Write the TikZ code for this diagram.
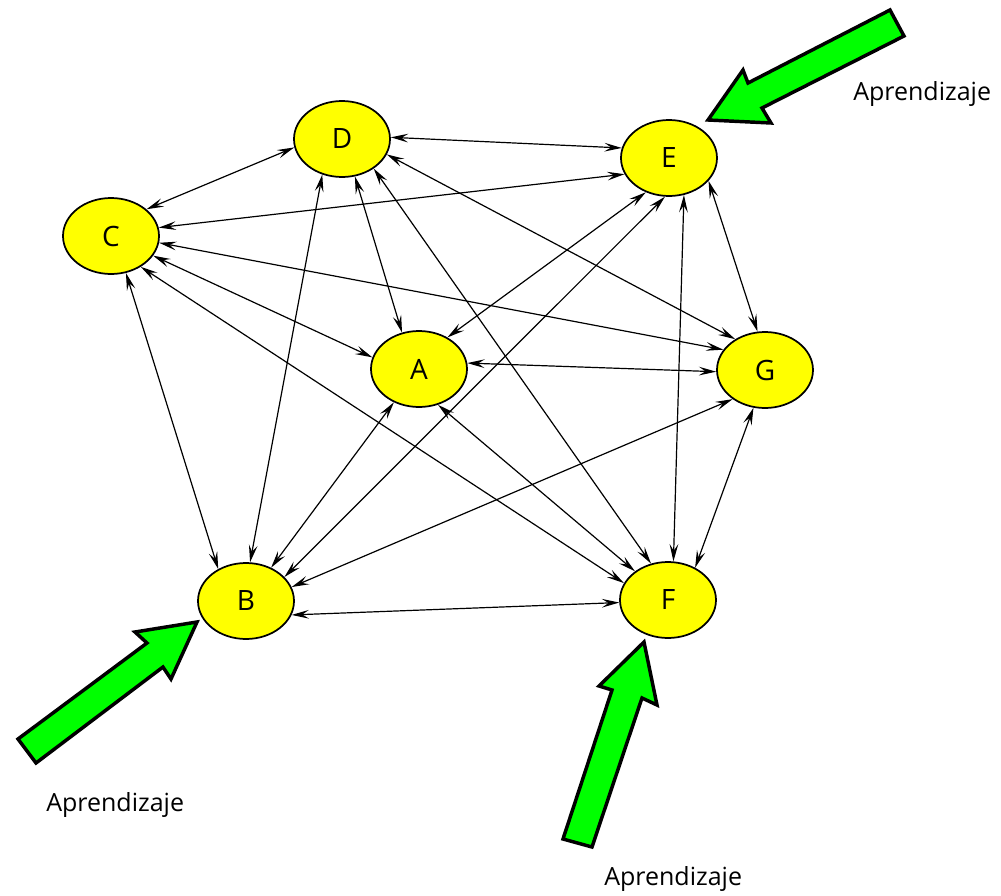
\documentclass[tikz,border=0pt]{standalone}
\usepackage{fontspec}
\setmainfont{Open Sans}
\usetikzlibrary{shapes.geometric,arrows.meta}
\definecolor{amarillo}{RGB}{255,255,0}
\definecolor{verde}{RGB}{0,255,0}

\begin{document}
\begin{tikzpicture}[x=0.75pt,y=0.75pt,yscale=-1,xscale=1,
    estado/.style={ellipse,draw,line width=1.3pt,fill=amarillo,minimum width=72pt,minimum height=57pt,inner sep=0pt,font=\fontsize{21}{25}\selectfont},
    enlace/.style={line width=0.9pt,{Stealth[length=13pt,width=6.5pt,inset=5pt]}-{Stealth[length=13pt,width=6.5pt,inset=5pt]}},
    flecha/.style={draw=black,line width=2.6pt,fill=verde,line join=miter},
    etiqueta/.style={fill=white,inner sep=0.75pt,anchor=base west,font=\fontsize{18.75}{22}\selectfont}]
        \useasboundingbox (0,0) rectangle (1001,896);

        % Estados
        \node [estado] (D) at (342,139) {D};
        \node [estado] (E) at (669,158) {E};
        \node [estado] (C) at (111,236) {C};
        \node [estado] (A) at (419,369) {A};
        \node [estado] (G) at (765,370) {G};
        \node [estado] (B) at (246,601) {B};
        \node [estado] (F) at (668,600) {F};

        % Enlaces (nodo.angulo)
        \foreach \a/\p/\b/\q in {D/2/E/168, D/190/C/37, D/-119/B/84, D/-71/A/115, D/-43/F/115, D/-19/G/134,
                                 E/200/C/10, E/-124/A/48, E/-96/B/32, E/-68/F/82, E/-30/G/101,
                                 C/-25/A/166, C/-8/G/154, C/-68/B/131, C/-46/F/159,
                                 A/7/G/182, A/-127/B/53, A/-62/F/139, G/-138/B/17, G/-107/F/50, B/-17/F/183}
            \draw [enlace] (\a.\p) -- (\b.\q);

        %Shape: Right Arrow [id:flechaE]
        \draw [flecha] (890,10) -- (748,83) -- (743,70) -- (708,120) -- (771,123) -- (762,108) -- (904,36) -- cycle ;
        %Shape: Right Arrow [id:flechaB]
        \draw [flecha] (18,739) -- (147,643) -- (135,632) -- (197,622) -- (171,679) -- (163,667) -- (36,763) -- cycle ;
        %Shape: Right Arrow [id:flechaF]
        \draw [flecha] (563,839) -- (612,690) -- (599,686) -- (644,642) -- (657,705) -- (642,698) -- (592,847) -- cycle ;

        % Text Node
        \node [etiqueta] (apE) at (852,100) {Aprendizaje};
        % Text Node
        \node [etiqueta] (apB) at (45,811) {Aprendizaje};
        % Text Node
        \node [etiqueta] (apF) at (603,885) {Aprendizaje};
\end{tikzpicture}
\end{document}
